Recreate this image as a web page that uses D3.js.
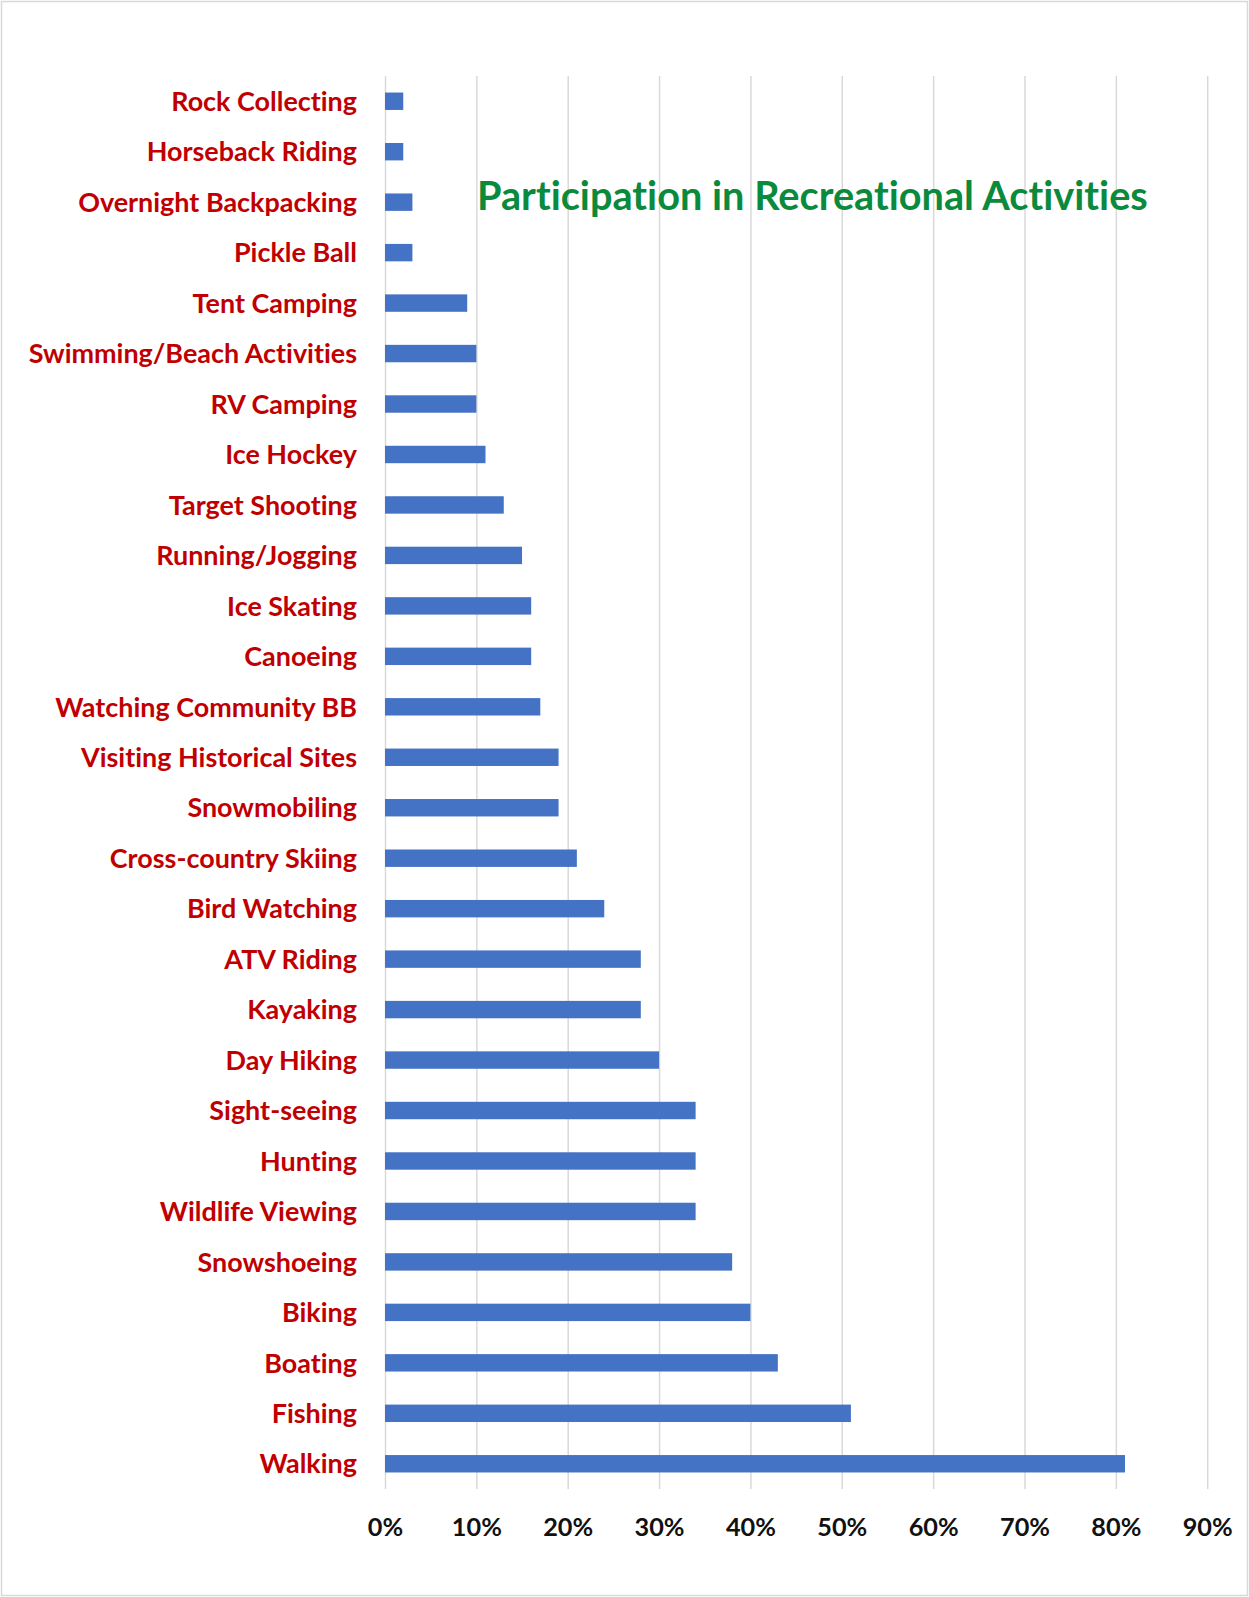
<!DOCTYPE html>
<html>
<head>
<meta charset="utf-8">
<script src="https://cdn.jsdelivr.net/npm/d3@7"></script>
<style>
  html, body { margin: 0; padding: 0; background: #fff; }
  svg { display: block; }
  text { font-family: "Lato", "Open Sans", sans-serif; font-weight: bold;
         font-variant-ligatures: none; font-feature-settings: "liga" 0, "clig" 0; }
</style>
</head>
<body>
<svg id="chart" width="1249" height="1597"></svg>
<script>
// ---- data ----
const categories = [
  "Rock Collecting", "Horseback Riding", "Overnight Backpacking", "Pickle Ball",
  "Tent Camping", "Swimming/Beach Activities", "RV Camping", "Ice Hockey",
  "Target Shooting", "Running/Jogging", "Ice Skating", "Canoeing",
  "Watching Community BB", "Visiting Historical Sites", "Snowmobiling",
  "Cross-country Skiing", "Bird Watching", "ATV Riding", "Kayaking",
  "Day Hiking", "Sight-seeing", "Hunting", "Wildlife Viewing", "Snowshoeing",
  "Biking", "Boating", "Fishing", "Walking"
];
const participation = [
  0.02, 0.02, 0.03, 0.03,
  0.09, 0.10, 0.10, 0.11,
  0.13, 0.15, 0.16, 0.16,
  0.17, 0.19, 0.19,
  0.21, 0.24, 0.28, 0.28,
  0.30, 0.34, 0.34, 0.34, 0.38,
  0.40, 0.43, 0.51, 0.81
];
const tickValues = [0, 0.1, 0.2, 0.3, 0.4, 0.5, 0.6, 0.7, 0.8, 0.9];
const chartTitle = "Participation in Recreational Activities";

// ---- layout ----
const W = 1249, H = 1597;
const plotLeft = 385, plotRight = 1207.2, plotTop = 76, plotBottom = 1489;
const svg = d3.select("#chart");

svg.append("rect")
  .attr("x", 1.5).attr("y", 1.5).attr("width", W - 3).attr("height", H - 3)
  .attr("fill", "#fff").attr("stroke", "#d9d9d9").attr("stroke-width", 1.5);

const x = d3.scaleLinear().domain([0, 0.9]).range([plotLeft, plotRight]);
const y = d3.scaleBand().domain(categories).range([plotTop, plotBottom])
  .paddingInner(0.655).paddingOuter(0.3275);

// helper to fit font size to a target width
function fitSize(text, targetWidth, base) {
  const t = svg.append("text").attr("font-size", base).text(text);
  const w = t.node().getComputedTextLength();
  t.remove();
  return base * targetWidth / w;
}
const labelSize = fitSize("Watching Community BB", 302, 24);
const tickSize = fitSize("90%", 50, 24);
const titleSize = fitSize(chartTitle, 671, 36);

// gridlines + tick labels via axis
const xAxis = d3.axisBottom(x)
  .tickValues(tickValues)
  .tickFormat(d3.format(".0%"))
  .tickSize(-(plotBottom - plotTop))
  .tickPadding(0);
const gx = svg.append("g")
  .attr("transform", `translate(0,${plotBottom})`)
  .call(xAxis);
gx.select(".domain").remove();
gx.selectAll(".tick line").attr("stroke", "#d9d9d9").attr("stroke-width", 1.5);
gx.selectAll(".tick text")
  .attr("y", 47).attr("dy", null)
  .attr("fill", "#111")
  .attr("font-size", tickSize)
  .attr("font-family", "Lato, 'Open Sans', sans-serif")
  .attr("font-weight", "bold");

// title (drawn over gridlines, no background)
svg.append("text")
  .attr("x", 477).attr("y", 210)
  .attr("fill", "#0a8a3c")
  .attr("font-size", titleSize)
  .text(chartTitle);

// bars
svg.append("g").selectAll("rect")
  .data(categories)
  .join("rect")
  .attr("x", x(0))
  .attr("y", d => y(d))
  .attr("width", (d, i) => x(participation[i]) - x(0))
  .attr("height", y.bandwidth())
  .attr("fill", "#4472c4");

// category labels
svg.append("g").selectAll("text")
  .data(categories)
  .join("text")
  .attr("x", 357)
  .attr("y", d => y(d) + y.bandwidth() / 2)
  .attr("dy", "0.36em")
  .attr("text-anchor", "end")
  .attr("fill", "#c00000")
  .attr("font-size", labelSize)
  .text(d => d);
</script>
</body>
</html>
